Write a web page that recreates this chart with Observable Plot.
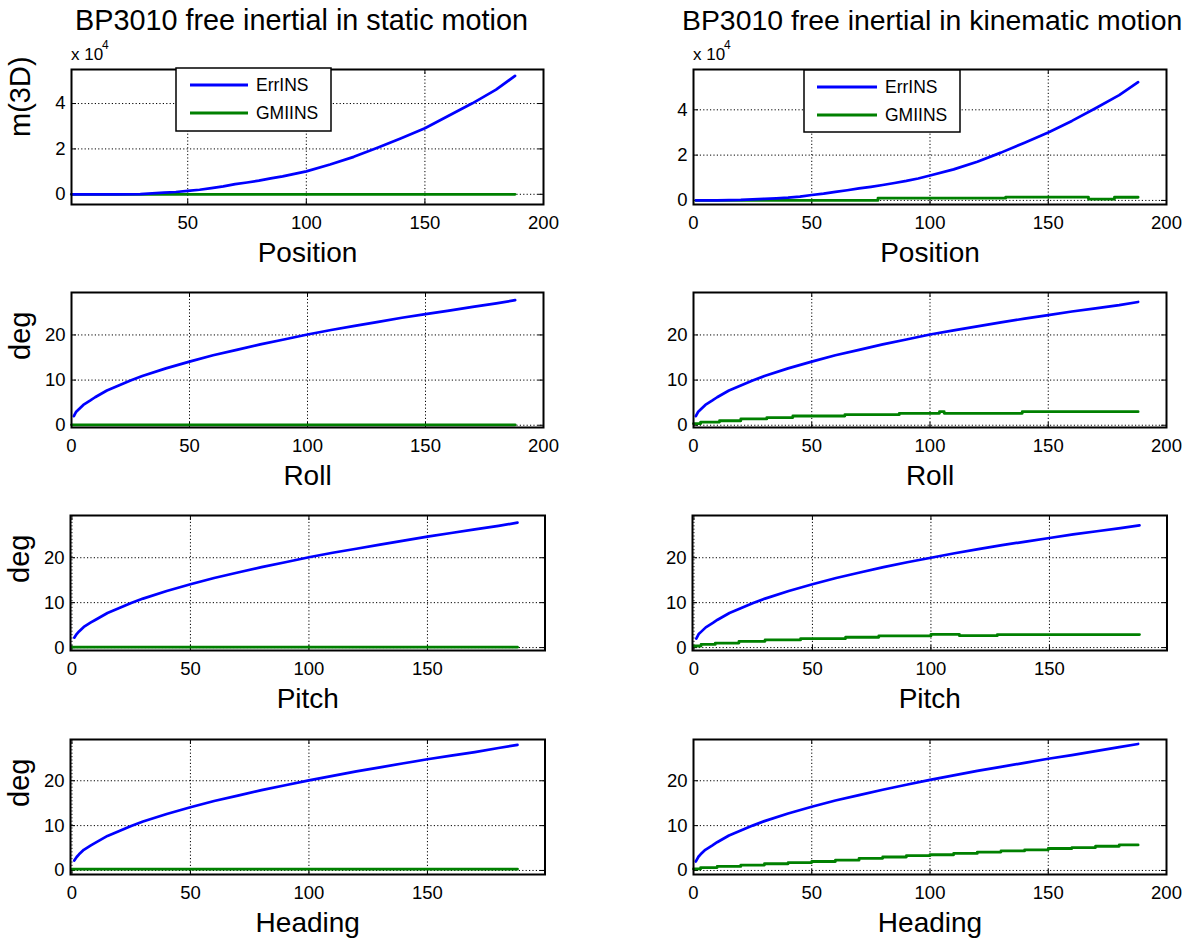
<!DOCTYPE html>
<html><head><meta charset="utf-8">
<script src="https://cdn.jsdelivr.net/npm/d3@7"></script>
<script src="https://cdn.jsdelivr.net/npm/@observablehq/plot@0.6"></script>
<style>
body{margin:0;background:#fff;}
#fig{position:relative;width:1188px;height:939px;overflow:hidden;font-family:"Liberation Sans",Arial,Helvetica,sans-serif;color:#000;background:#fff;}
#fig svg{position:absolute;overflow:visible;}
</style></head><body><div id="fig"></div>
<script>
// ---------------- data ----------------
const titles = ["BP3010 free inertial in static motion", "BP3010 free inertial in kinematic motion"];
const xLabels = ["Position", "Roll", "Pitch", "Heading"];
const yLabels = ["m(3D)", "deg", "deg", "deg"];
const seriesNames = ["ErrINS", "GMIINS"];

// position error, metres
const tPosS = [1,10,20,30,35,40,45,50,55,60,65,70,75,80,85,90,95,100,110,120,130,140,150,160,170,180,188];
const errPosS = [0,0,0,100,400,700,1000,1500,2000,2700,3500,4500,5200,6000,7000,7900,9000,10100,13100,16500,20500,24700,29100,34600,40100,46100,52200];
const tPosK = [1,10,20,25,30,35,40,45,50,55,60,65,70,75,80,85,90,95,100,110,120,130,140,150,160,170,180,188];
const errPosK = [0,0,200,500,700,900,1200,1700,2400,3000,3800,4500,5300,6000,6800,7700,8600,9700,11000,13700,17100,21100,25500,30000,35100,40700,46500,52200];
const tGmPosS = [1,188];
const gmPosS = [0,0];
const tGmPosK = [1,78,132,167,178,188];
const gmPosK = [0,1000,1500,600,1400,1400];

// attitude errors, deg
const tAtt = [1,2,3,5,8,10,15,20,25,30,40,50,60,70,80,90,100,110,120,130,140,150,160,170,180,188];
const errRollS  = [2.0,3.0,3.5,4.5,5.5,6.2,7.7,8.8,9.9,10.9,12.6,14.1,15.5,16.7,17.9,19.0,20.1,21.1,22.0,22.9,23.8,24.6,25.4,26.2,27.0,27.7];
const errRollK  = [2.0,3.0,3.5,4.5,5.5,6.2,7.7,8.8,9.9,10.9,12.6,14.1,15.5,16.7,17.9,19.0,20.1,21.0,21.9,22.8,23.6,24.4,25.2,25.9,26.6,27.3];
const errPitchS = [2.2,3.0,3.6,4.6,5.6,6.2,7.7,8.8,9.9,10.9,12.6,14.1,15.5,16.7,17.9,19.0,20.1,21.1,22.0,22.9,23.8,24.7,25.5,26.3,27.1,27.8];
const errPitchK = [2.0,3.0,3.5,4.5,5.5,6.2,7.7,8.8,9.9,10.9,12.6,14.1,15.5,16.7,17.9,19.0,20.0,21.0,21.9,22.8,23.6,24.4,25.2,25.9,26.6,27.2];
const errHeadS  = [2.2,3.0,3.6,4.6,5.6,6.2,7.7,8.8,9.9,10.9,12.6,14.1,15.5,16.7,17.9,19.0,20.1,21.1,22.1,23.0,23.9,24.8,25.6,26.4,27.3,28.0];
const errHeadK  = [2.0,3.0,3.6,4.6,5.6,6.3,7.8,8.9,10.0,11.0,12.7,14.2,15.6,16.8,18.0,19.1,20.2,21.2,22.2,23.1,24.0,24.9,25.7,26.6,27.5,28.2];

const tGmRollS = [0,188];   const gmRollS = [0.1,0.1];
const tGmPitchS = [0,188];  const gmPitchS = [0.1,0.1];
const tGmHeadS = [0,188];   const gmHeadS = [0.3,0.3];
const tGmRollK = [0,3,11,20,31,42,64,87,104,106,139,188];
const gmRollK  = [0.35,0.7,1.0,1.4,1.7,2.05,2.35,2.65,3.0,2.65,3.0,3.0];
const tGmPitchK = [0,3,9,19,30,45,64,78,100,112,128,188];
const gmPitchK  = [0.35,0.7,1.0,1.4,1.7,2.0,2.3,2.6,2.95,2.65,2.9,2.9];
const tGmHeadK = [0,3,10,20,30,40,50,60,70,80,90,100,110,120,130,140,150,160,170,180,188];
const gmHeadK  = [0.35,0.65,0.9,1.2,1.5,1.75,2.0,2.3,2.7,3.0,3.3,3.5,3.8,4.1,4.35,4.6,4.9,5.1,5.4,5.7,5.7];

const xTicksFull = [0,50,100,150,200];
const xTicksPos = [50,100,150,200];
const xTicksShort = [0,50,100,150];
const yTicksPos = [0,20000,40000];
const yTicksAtt = [0,10,20];

// ---------------- helpers ----------------
const zip = (t, v) => t.map((d, i) => ({t: d, v: v[i]}));
const fig = document.getElementById("fig");
const FONT = '"Liberation Sans", Arial, Helvetica, sans-serif';

function panel(p) {
  const mL = 62, mR = 14, mT = 8, mB = 76;
  const W = p.w + mL + mR, H = p.h + mT + mB;
  const grid = {stroke: "#000", strokeOpacity: 1, strokeWidth: 1, strokeDasharray: "1.2,2.2"};
  const marks = [
    Plot.gridX({ticks: p.xTicks, ...grid}),
    Plot.gridY({ticks: p.yTicks, ...grid}),
    Plot.ruleX(p.xTicks, {x: d => d, insetTop: p.h - 5, stroke: "#000"}),
    Plot.ruleX(p.xTicks, {x: d => d, insetBottom: p.h - 5, stroke: "#000"}),
    Plot.ruleY(p.yTicks, {y: d => d, insetRight: p.w - 5, stroke: "#000"}),
    Plot.ruleY(p.yTicks, {y: d => d, insetLeft: p.w - 5, stroke: "#000"}),
    Plot.line(p.green, {x: "t", y: "v", stroke: "#008000", strokeWidth: 2.8, curve: "step-after"}),
    Plot.line(p.blue, {x: "t", y: "v", stroke: "#0000ff", strokeWidth: 2.7}),
    Plot.frame({stroke: "#000", strokeWidth: 2}),
    Plot.axisX({ticks: p.xTicks, tickSize: 0, tickPadding: 11, fontSize: 18.5, label: null, fill: "#000"}),
    Plot.axisY({ticks: p.yTicks, tickSize: 0, tickPadding: 6, fontSize: 18.5, label: null, fill: "#000", tickFormat: p.yFormat}),
    Plot.text([p.xLabel], {text: d => d, frameAnchor: "bottom", dy: 57, lineAnchor: "bottom", fontSize: 28, fill: "#000"})
  ];
  if (p.yLabel) marks.push(Plot.text([p.yLabel], {text: d => d, frameAnchor: "left", dx: -42, rotate: -90, lineAnchor: "bottom", fontSize: 29, fill: "#000"}));
  const svg = Plot.plot({
    width: W, height: H, marginLeft: mL, marginRight: mR, marginTop: mT, marginBottom: mB,
    x: {domain: p.xDomain}, y: {domain: p.yDomain},
    style: {fontFamily: FONT, fontSize: "18px", color: "#000", background: "transparent", overflow: "visible"},
    marks
  });
  svg.style.left = (p.left - mL) + "px";
  svg.style.top = (p.top - mT) + "px";
  fig.appendChild(svg);
}

const rowsTop = [69, 292, 515, 739];
const rowH = [135, 135, 135, 135];
const posFmt = d => String(d / 10000);

const panels = [
  {left: 71, w: 472, xDomain: [1, 200], xTicks: xTicksPos, yDomain: [-4500, 55000], yTicks: yTicksPos, yFormat: posFmt,
   blue: zip(tPosS, errPosS), green: zip(tGmPosS, gmPosS), row: 0, yLabel: yLabels[0]},
  {left: 693, w: 473, xDomain: [0, 200], xTicks: xTicksFull, yDomain: [-1800, 57800], yTicks: yTicksPos, yFormat: posFmt,
   blue: zip(tPosK, errPosK), green: zip(tGmPosK, gmPosK), row: 0},
  {left: 71, w: 472, xDomain: [0, 200], xTicks: xTicksFull, yDomain: [-0.5, 29.4], yTicks: yTicksAtt,
   blue: zip(tAtt, errRollS), green: zip(tGmRollS, gmRollS), row: 1, yLabel: yLabels[1]},
  {left: 693, w: 473, xDomain: [0, 200], xTicks: xTicksFull, yDomain: [-0.5, 29.4], yTicks: yTicksAtt,
   blue: zip(tAtt, errRollK), green: zip(tGmRollK, gmRollK), row: 1},
  {left: 69.5, w: 474.5, xDomain: [-0.6, 199.6], xTicks: xTicksShort, yDomain: [-0.65, 29.4], yTicks: yTicksAtt,
   blue: zip(tAtt, errPitchS), green: zip(tGmPitchS, gmPitchS), row: 2, yLabel: yLabels[2]},
  {left: 691.5, w: 474.5, xDomain: [-0.6, 199.6], xTicks: xTicksShort, yDomain: [-0.65, 29.4], yTicks: yTicksAtt,
   blue: zip(tAtt, errPitchK), green: zip(tGmPitchK, gmPitchK), row: 2},
  {left: 69.5, w: 474.5, xDomain: [-0.6, 199.6], xTicks: xTicksShort, yDomain: [-0.9, 29.2], yTicks: yTicksAtt,
   blue: zip(tAtt, errHeadS), green: zip(tGmHeadS, gmHeadS), row: 3, yLabel: yLabels[3]},
  {left: 693, w: 473, xDomain: [0, 200], xTicks: xTicksFull, yDomain: [-0.9, 29.2], yTicks: yTicksAtt,
   blue: zip(tAtt, errHeadK), green: zip(tGmHeadK, gmHeadK), row: 3}
];
panels.forEach(p => panel({...p, top: rowsTop[p.row], h: rowH[p.row], xLabel: xLabels[p.row]}));

// ---------------- titles, exponent labels, legends (overlay) ----------------
const ns = "http://www.w3.org/2000/svg";
const ov = document.createElementNS(ns, "svg");
ov.setAttribute("width", 1188); ov.setAttribute("height", 939);
ov.style.left = "0px"; ov.style.top = "0px"; ov.style.pointerEvents = "none";
ov.setAttribute("font-family", FONT);
fig.appendChild(ov);
function txt(x, y, s, size, anchor = "start") {
  const e = document.createElementNS(ns, "text");
  e.setAttribute("x", x); e.setAttribute("y", y); e.setAttribute("font-size", size);
  e.setAttribute("text-anchor", anchor); e.setAttribute("fill", "#000");
  e.textContent = s; ov.appendChild(e); return e;
}
function el(tag, attrs) {
  const e = document.createElementNS(ns, tag);
  for (const k in attrs) e.setAttribute(k, attrs[k]);
  ov.appendChild(e); return e;
}
txt(75, 30, titles[0], 28.8);
txt(682, 30, titles[1], 28.4);
[[71, 60], [693, 60]].forEach(([x, y]) => {
  txt(x, y, "x 10", 17);
  txt(x + 31, y - 11, "4", 12);
});
function legend(x0, y0, w, h, lx0, lx1, tx) {
  el("rect", {x: x0, y: y0, width: w, height: h, fill: "#fff", stroke: "#000", "stroke-width": 1.5});
  const ys = [y0 + 17, y0 + 45];
  const cols = ["#0000ff", "#008000"];
  seriesNames.forEach((n, i) => {
    el("line", {x1: lx0, x2: lx1, y1: ys[i], y2: ys[i], stroke: cols[i], "stroke-width": 2.8});
    txt(tx, ys[i] + 6, n, 17.5);
  });
}
legend(176, 68, 155, 63, 190, 248, 256);
legend(804, 70, 156, 62, 817, 877, 885);
</script></body></html>
